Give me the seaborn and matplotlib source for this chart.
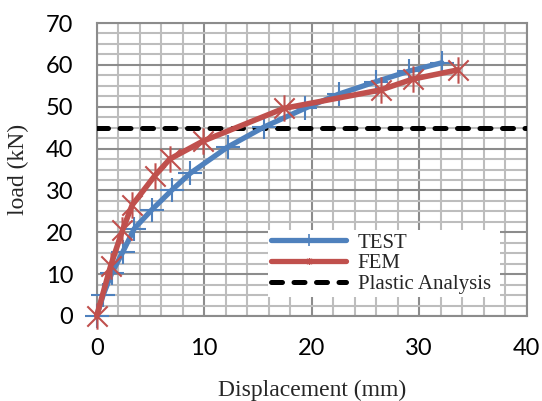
import numpy as np
import pandas as pd
import matplotlib
matplotlib.use("Agg")
import matplotlib.pyplot as plt
from matplotlib.path import Path
from matplotlib.lines import Line2D
from matplotlib.ticker import MultipleLocator
import seaborn as sns

# Load-displacement results
test_disp = [0.0, 0.6, 1.4, 2.45, 3.5, 5.1, 7.0, 8.7, 12.2, 15.6, 19.35, 22.5, 26.0, 29.05, 32.1]
test_load = [0.0, 5.0, 10.2, 15.4, 20.9, 25.3, 30.1, 34.1, 40.4, 45.2, 49.6, 53.0, 56.0, 58.5, 60.5]
fem_disp = [0.0, 1.3, 2.4, 3.3, 5.4, 6.8, 9.9, 17.4, 26.4, 29.4, 33.6]
fem_load = [0.0, 12.0, 20.5, 26.5, 33.5, 37.5, 41.8, 49.6, 54.0, 56.6, 58.8]
plastic_load = 45.0
x_ticks = [0, 10, 20, 30, 40]
y_ticks = [0, 10, 20, 30, 40, 50, 60, 70]

BLUE = "#4F81BD"
RED = "#C0504D"

sns.set_style("white")
plt.rcParams["font.family"] = ["DejaVu Sans"]

# six-armed asterisk marker
star = Path(
    [(-1, -1), (1, 1), (-1, 1), (1, -1), (0, -1.3), (0, 1.3)],
    [Path.MOVETO, Path.LINETO, Path.MOVETO, Path.LINETO, Path.MOVETO, Path.LINETO],
)

fig = plt.figure(figsize=(5.42, 4.01), dpi=100)
ax = fig.add_axes([0.1784, 0.212, 0.7934, 0.7306])

df_test = pd.DataFrame({"disp": test_disp, "load": test_load})
df_fem = pd.DataFrame({"disp": fem_disp, "load": fem_load})

sns.lineplot(data=df_test, x="disp", y="load", ax=ax, sort=False, color=BLUE,
             linewidth=3.8, marker="+", markersize=17, markeredgewidth=1.5,
             markeredgecolor=BLUE, zorder=4, solid_capstyle="round", clip_on=False)
sns.lineplot(data=df_fem, x="disp", y="load", ax=ax, sort=False, color=RED,
             linewidth=4.0, marker=star, markersize=19, markeredgewidth=1.5,
             markeredgecolor=RED, markerfacecolor="none", zorder=5,
             solid_capstyle="round", clip_on=False)
ax.axhline(plastic_load, color="black", linewidth=3.6, linestyle=(0, (2.2, 2.3)),
           dash_capstyle="round", zorder=3)

ax.set_xlim(0, 40)
ax.set_ylim(0, 70)
ax.set_xticks(x_ticks)
ax.set_yticks(y_ticks)
ax.xaxis.set_minor_locator(MultipleLocator(2))
ax.yaxis.set_minor_locator(MultipleLocator(2.5))
ax.grid(which="minor", color="#BDBDBD", linewidth=1.5, zorder=0)
ax.grid(which="major", color="#8C8C8C", linewidth=1.5, zorder=1)
ax.set_axisbelow(True)
for s in ax.spines.values():
    s.set_color("#8C8C8C")
    s.set_linewidth(1.5)

ax.tick_params(axis="both", which="both", length=0, labelsize=17, colors="black")
ax.tick_params(axis="y", pad=17)
ax.tick_params(axis="x", pad=16)
for lbl in ax.get_xticklabels() + ax.get_yticklabels():
    lbl.set_fontfamily(["Lato", "DejaVu Sans"])

ax.set_xlabel("Displacement (mm)", fontfamily="Liberation Serif", fontsize=17, labelpad=15)
ax.set_ylabel("load (kN)", fontfamily="Liberation Serif", fontsize=17, labelpad=12)

handles = [
    Line2D([], [], color=BLUE, linewidth=3.8, marker="+", markersize=8,
           markeredgewidth=1.2, solid_capstyle="round"),
    Line2D([], [], color=RED, linewidth=3.8, marker=star, markersize=5,
           markeredgewidth=1.0, markerfacecolor="none", solid_capstyle="round"),
    Line2D([], [], color="black", linewidth=3.6, linestyle=(0, (2.2, 2.3)),
           dash_capstyle="round"),
]
leg = ax.legend(handles, ["TEST", "FEM", "Plastic Analysis"],
                loc="lower left", bbox_to_anchor=(268 / 542, 1 - 297 / 401, 232 / 542, 73 / 401),
                bbox_transform=fig.transFigure, mode="expand",
                prop={"family": "Liberation Serif", "size": 15},
                handlelength=3.6, handletextpad=0.55, labelspacing=0.05,
                borderpad=0.15, borderaxespad=0, frameon=True, fancybox=False,
                framealpha=1, facecolor="white", edgecolor="none")
leg.set_zorder(10)

fig.savefig("out.png", dpi=100)
